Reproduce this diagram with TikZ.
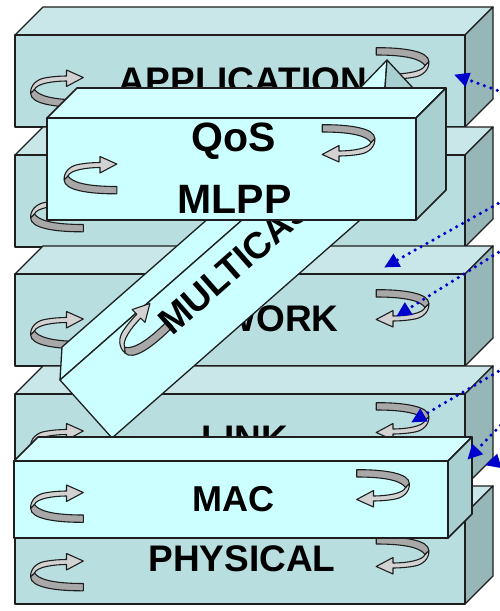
\documentclass[tikz,border=0pt]{standalone}
\usepackage{fontspec}
\setmainfont{Liberation Sans}
\usetikzlibrary{arrows.meta}
\definecolor{lfront}{HTML}{B9DEE0}
\definecolor{ltop}{HTML}{C9E6E8}
\definecolor{lside}{HTML}{96B6B8}
\definecolor{cfront}{HTML}{CCFFFF}
\definecolor{ctop}{HTML}{D2FFFF}
\definecolor{cside}{HTML}{A8D0D0}
\definecolor{edgec}{HTML}{1E1E1E}
\definecolor{stripg}{HTML}{D2D2D2}
\definecolor{bandg}{HTML}{A8A8A8}
\definecolor{ptrblue}{HTML}{0000CC}
\newcommand{\drawslab}[8]{%
  \filldraw[fill=#7] (#1,#2) -- ({#1+#5},{#2-#5}) -- ({#3+#5},{#2-#5}) -- (#3,#2) -- cycle;
  \filldraw[fill=#8] (#3,#2) -- ({#3+#5},{#2-#5}) -- ({#3+#5},{#4-#5}) -- (#3,#4) -- cycle;
  \filldraw[fill=#6] (#1,#2) rectangle (#3,#4);
}
\tikzset{
  edges/.style={draw=edgec, line width=1.3pt, line join=round},
  thickedges/.style={draw=edgec, line width=1.6pt, line join=round},
  curlarrow/.pic={
    \filldraw[draw=edgec, line width=1.1pt, line join=round, fill=stripg]
      (-25.8,5) .. controls (-26.5,-3) and (-20,-9) .. (-12,-10.5)
      .. controls (-4,-12) and (4,-12.5) .. (10,-12.5) -- (10,-18.5) -- (26.8,-11)
      -- (10,-2) -- (10,-7.5) .. controls (-3,-7.5) and (-20,-5) .. (-22,1) -- cycle;
    \filldraw[draw=edgec, line width=1.1pt, line join=round, fill=bandg]
      (-22,1) .. controls (-18,7) and (-5,11.5) .. (26.8,11.5) -- (26.8,18.8)
      .. controls (-2,19) and (-26,15) .. (-25.8,5) -- cycle;
  },
  lbl/.style={font=\bfseries\fontsize{37}{40}\selectfont, anchor=base, inner sep=0pt, text=black},
  biglbl/.style={font=\bfseries\fontsize{41}{44}\selectfont, anchor=base, inner sep=0pt, text=black},
  ptr/.style={draw=ptrblue, line width=3.5pt, dash pattern=on 0pt off 6.8pt, line cap=round,
    -{Triangle[length=15pt,width=14pt]}, shorten >=-1pt},
}
\begin{document}
\begin{tikzpicture}[x=1pt,y=-1pt]
\useasboundingbox (0,0) rectangle (499,611);
\fill[white] (0,0) rectangle (499,611);

% layer slabs
\begin{scope}[edges]
\drawslab{15}{35}{465}{127}{28}{lfront}{ltop}{lside}
\drawslab{15}{155}{465}{247}{28}{lfront}{ltop}{lside}
\drawslab{15}{274}{465}{366}{28}{lfront}{ltop}{lside}
\drawslab{15}{394}{465}{486}{28}{lfront}{ltop}{lside}
\drawslab{15}{514}{465}{604}{28}{lfront}{ltop}{lside}
\end{scope}

% layer curl arrows
\pic at (56.5,88.5) {curlarrow};
\pic[rotate=180] at (403,66.5) {curlarrow};
\pic at (56.5,213) {curlarrow};
\pic at (56.5,330) {curlarrow};
\pic[rotate=180] at (403,308.5) {curlarrow};
\pic at (56.5,442) {curlarrow};
\pic[rotate=180] at (403,421.5) {curlarrow};
\pic at (56.5,572) {curlarrow};
\pic[rotate=180] at (403,555.5) {curlarrow};

% layer labels
\node[lbl] (app) at (243,93) {APPLICATION};
\node[lbl] (net) at (243,331) {NETWORK};
\node[lbl] (lnk) at (245,451) {LINK};
\node[lbl] (phy) at (242,571.5) {PHYSICAL};

% multicast bar
\begin{scope}[edges]
\filldraw[fill=cfront] (62,347) -- (60,380) -- (322.9,149) -- (324.9,116) -- cycle;
\filldraw[fill=cfront] (60,380) -- (112,438) -- (374.9,207) -- (322.9,149) -- cycle;
\filldraw[fill=ctop] (360,88) -- (387,60) -- (385,88) -- cycle;
\filldraw[fill=cside] (385,88) -- (387,60) -- (413,88) -- cycle;
\end{scope}
\pic[rotate=45, yscale=1.1] at (139.5,331) {curlarrow};
\node[lbl, anchor=base west, rotate=41.3] (mc) at (172,337) {MULTICAST};

% QoS / MLPP box
\begin{scope}[thickedges]
\drawslab{47}{118}{416}{220}{30}{cfront}{ctop}{cside}
\end{scope}
\pic at (90,175) {curlarrow};
\pic[rotate=180] at (349,143.5) {curlarrow};
\node[biglbl] (qos) at (233.5,151) {QoS};
\node[biglbl] (mlpp) at (234.5,213.5) {MLPP};

% MAC box
\begin{scope}[thickedges]
\drawslab{14}{461}{448}{538}{24}{cfront}{ctop}{cside}
\end{scope}
\pic at (56.5,503.5) {curlarrow};
\pic[rotate=180] at (383.5,488.5) {curlarrow};
\node[lbl, font=\bfseries\fontsize{36}{40}\selectfont] (mac) at (233.5,511) {MAC};

% blue dotted pointers
\coordinate (s1) at (510,95);    \coordinate (e1) at (455,75);
\coordinate (s2) at (510,196.8); \coordinate (e2) at (385,267);
\coordinate (s3) at (510,245.1); \coordinate (e3) at (397,316);
\coordinate (s4) at (510,364.6); \coordinate (e4) at (412,422);
\coordinate (s5) at (510,415.6); \coordinate (e5) at (468,459);
\coordinate (s6) at (510,457.6); \coordinate (e6) at (486,465);
\draw[ptr] (s1) -- (e1);
\draw[ptr] (s2) -- (e2);
\draw[ptr] (s3) -- (e3);
\draw[ptr] (s4) -- (e4);
\draw[ptr] (s5) -- (e5);
\draw[ptr] (s6) -- (e6);
\end{tikzpicture}
\end{document}
